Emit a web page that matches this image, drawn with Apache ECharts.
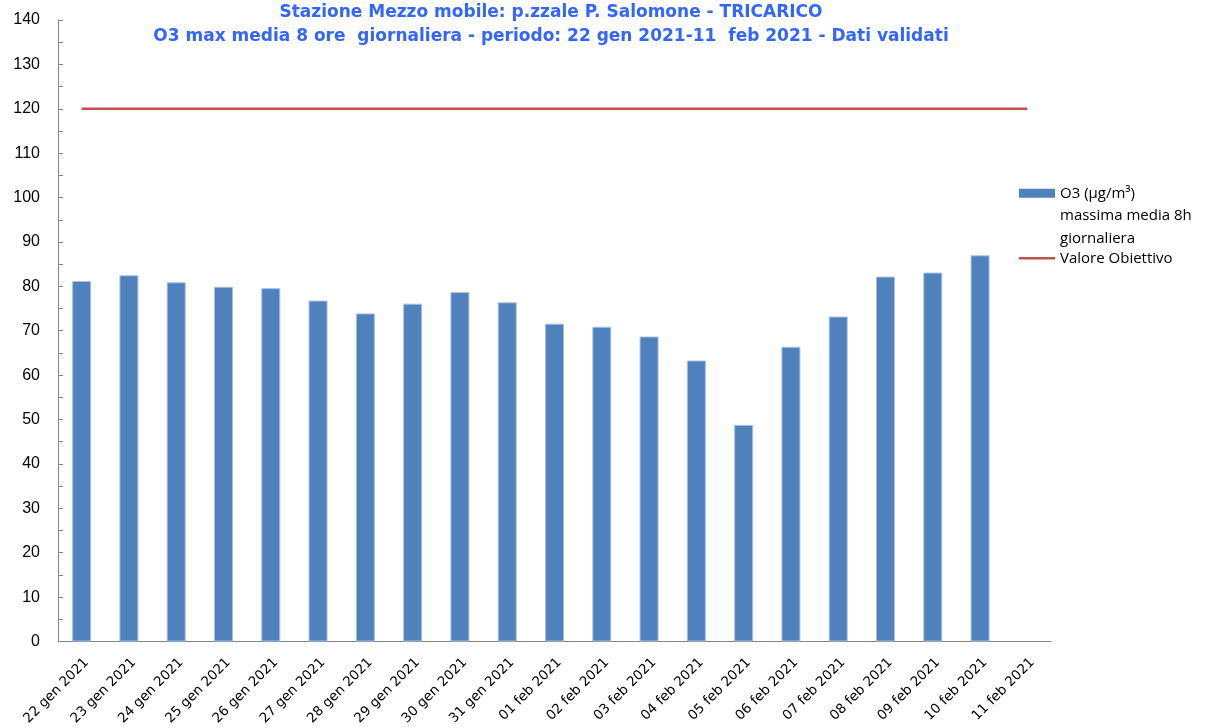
<!DOCTYPE html>
<html>
<head>
<meta charset="utf-8">
<script src="https://cdn.jsdelivr.net/npm/echarts@6/dist/echarts.min.js"></script>
<style>html,body{margin:0;padding:0;background:#fff}#c{width:1205px;height:728px}</style>
</head>
<body>
<div id="c"></div>
<script>
var titleLines = ['Stazione Mezzo mobile: p.zzale P. Salomone - TRICARICO',
  'O3 max media 8 ore  giornaliera - periodo: 22 gen 2021-11  feb 2021 - Dati validati'];
var categories = ['22 gen 2021','23 gen 2021','24 gen 2021','25 gen 2021','26 gen 2021','27 gen 2021','28 gen 2021',
  '29 gen 2021','30 gen 2021','31 gen 2021','01 feb 2021','02 feb 2021','03 feb 2021','04 feb 2021','05 feb 2021',
  '06 feb 2021','07 feb 2021','08 feb 2021','09 feb 2021','10 feb 2021','11 feb 2021'];
var o3Name = 'O3 (\u00b5g/m\u00b3)\nmassima media 8h\ngiornaliera';
var o3Values = [81.2, 82.5, 80.9, 79.9, 79.6, 76.8, 73.9, 76.1, 78.7, 76.4, 71.6,
  70.9, 68.7, 63.3, 48.8, 66.4, 73.2, 82.2, 83.1, 87.0, null];
var targetName = 'Valore Obiettivo';
var targetValues = [120, 120, 120, 120, 120, 120, 120, 120, 120, 120, 120,
  120, 120, 120, 120, 120, 120, 120, 120, 120, 120];

var chart = echarts.init(document.getElementById('c'));
chart.setOption({
  animation: false,
  backgroundColor: '#ffffff',
  title: {
    text: titleLines.join('\n'),
    left: 546, top: -4, textAlign: 'center',
    textStyle: { color: '#3366ff', fontSize: 17, fontWeight: 'bold', fontFamily: 'DejaVu Sans', lineHeight: 23.5 }
  },
  legend: [{
    data: [o3Name], orient: 'vertical', left: 1014, top: 132,
    icon: 'rect', itemWidth: 36, itemHeight: 9, itemGap: 0,
    itemStyle: { borderWidth: 0 },
    formatter: function (n) { return '\n\n' + n; },
    textStyle: { fontSize: 15, fontFamily: 'Open Sans', color: '#000', lineHeight: 22.5 }
  }, {
    data: [targetName], orient: 'vertical', left: 1014, top: 242,
    icon: 'rect', itemWidth: 36, itemHeight: 2.5,
    itemStyle: { color: '#c0504d', borderWidth: 0 },
    textStyle: { fontSize: 15, fontFamily: 'Open Sans', color: '#000', lineHeight: 22.5 }
  }],
  grid: { left: 58, right: 154, top: 20, bottom: 85, containLabel: false },
  xAxis: {
    type: 'category', data: categories,
    axisLine: { lineStyle: { color: '#868686', width: 1 } },
    axisTick: { show: false },
    axisLabel: { rotate: 45, margin: 14, verticalAlign: 'top', interval: 0, fontSize: 13.5, fontFamily: 'DejaVu Sans', color: '#000' }
  },
  yAxis: {
    type: 'value', min: 0, max: 140, interval: 10,
    axisLine: { show: true, lineStyle: { color: '#868686', width: 1 } },
    axisTick: { show: true, inside: true, length: 5, lineStyle: { color: '#868686' } },
    minorTick: { show: true, splitNumber: 2, length: 5, lineStyle: { color: '#868686' } },
    splitLine: { show: false },
    axisLabel: { margin: 18, fontSize: 16, fontFamily: 'Liberation Sans', color: '#000' }
  },
  series: [{
    name: o3Name, type: 'bar', data: o3Values, barWidth: 19,
    itemStyle: { color: '#4f81bd', borderColor: '#a9c0e0', borderWidth: 1 }
  }, {
    name: targetName, type: 'line', data: targetValues, symbol: 'none',
    lineStyle: { color: '#c0504d', width: 2.5 }, itemStyle: { color: '#c0504d' }
  }]
});
</script>
</body>
</html>
